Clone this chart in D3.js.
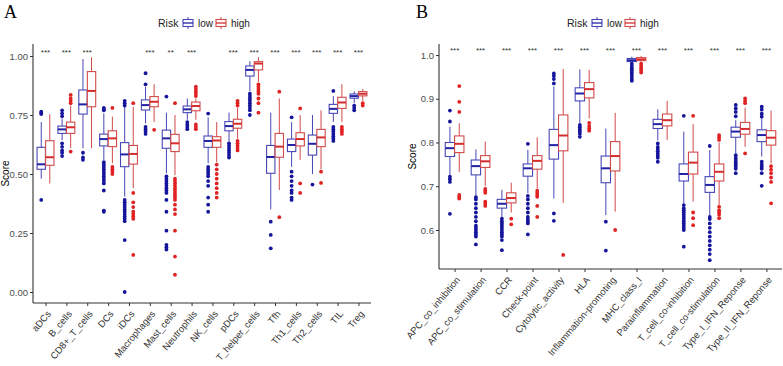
<!DOCTYPE html>
<html>
<head>
<meta charset="utf-8">
<script src="https://cdn.jsdelivr.net/npm/d3@7"></script>
<style>
  body { margin: 0; background: #fff; }
  svg text { font-family: "Liberation Sans", Arial, sans-serif; }
</style>
</head>
<body>
<div id="chart"></div>
<script>
// ---- Panel A: immune cells ----
var catsA = ["aDCs", "B_cells", "CD8+_T_cells", "DCs", "iDCs", "Macrophages", "Mast_cells", "Neutrophils",
             "NK_cells", "pDCs", "T_helper_cells", "Tfh", "Th1_cells", "Th2_cells", "TIL", "Treg"];
var starsA = ["***", "***", "***", "", "", "***", "**", "***", "", "***", "***", "***", "***", "***", "***", "***"];
var ticksA = [0, 0.25, 0.5, 0.75, 1.0];

// [lower whisker, q1, median, q3, upper whisker]
var lowA = [
  [0.48, 0.52, 0.541, 0.613, 0.72], [0.644, 0.672, 0.689, 0.703, 0.736], [0.609, 0.754, 0.795, 0.856, 0.987],
  [0.559, 0.619, 0.648, 0.669, 0.757], [0.404, 0.531, 0.583, 0.633, 0.785], [0.715, 0.771, 0.792, 0.814, 0.87],
  [0.503, 0.609, 0.651, 0.686, 0.76], [0.73, 0.76, 0.774, 0.788, 0.82], [0.545, 0.613, 0.64, 0.661, 0.74],
  [0.637, 0.683, 0.703, 0.722, 0.76], [0.85, 0.915, 0.941, 0.958, 0.978], [0.35, 0.503, 0.572, 0.621, 0.76],
  [0.53, 0.595, 0.623, 0.648, 0.72], [0.50, 0.58, 0.628, 0.665, 0.75], [0.72, 0.757, 0.776, 0.795, 0.83],
  [0.80, 0.821, 0.83, 0.839, 0.85]
];
var highA = [
  [0.46, 0.537, 0.571, 0.641, 0.754], [0.61, 0.672, 0.698, 0.72, 0.79], [0.609, 0.785, 0.852, 0.934, 0.994],
  [0.545, 0.616, 0.651, 0.683, 0.743], [0.44, 0.542, 0.585, 0.621, 0.785], [0.72, 0.785, 0.806, 0.828, 0.88],
  [0.495, 0.595, 0.63, 0.668, 0.75], [0.73, 0.768, 0.788, 0.805, 0.82], [0.55, 0.613, 0.642, 0.658, 0.72],
  [0.65, 0.694, 0.713, 0.732, 0.78], [0.89, 0.941, 0.968, 0.976, 0.995], [0.432, 0.571, 0.616, 0.672, 0.82],
  [0.56, 0.619, 0.648, 0.675, 0.75], [0.52, 0.616, 0.655, 0.689, 0.77], [0.72, 0.778, 0.803, 0.825, 0.88],
  [0.81, 0.831, 0.84, 0.849, 0.86]
];
var lowOutA = [
  [0.39, 0.754, 0.76, 0.764],
  [0.576, 0.59, 0.60, 0.615, 0.63, 0.745, 0.757, 0.77],
  [0.56, 0.57, 0.59],
  [0.34, 0.345, 0.43, 0.46, 0.47, 0.48, 0.49, 0.50, 0.51, 0.52, 0.53, 0.54, 0.55, 0.77, 0.775, 0.78],
  [0.0, 0.22, 0.30, 0.31, 0.32, 0.33, 0.34, 0.35, 0.36, 0.37, 0.38, 0.39, 0.79, 0.80, 0.81],
  [0.67, 0.68, 0.69, 0.70, 0.88, 0.927],
  [0.18, 0.19, 0.20, 0.26, 0.34, 0.39, 0.42, 0.43, 0.44, 0.45, 0.46, 0.47, 0.48, 0.49, 0.828],
  [0.69, 0.70, 0.71, 0.72],
  [0.34, 0.37, 0.40, 0.45, 0.47, 0.49, 0.50, 0.51, 0.52, 0.53, 0.756],
  [0.57, 0.58, 0.59, 0.60, 0.61, 0.62, 0.63],
  [0.75, 0.77, 0.78, 0.79, 0.80, 0.81, 0.82, 0.83, 0.84],
  [0.185, 0.242, 0.298],
  [0.39, 0.40, 0.42, 0.43, 0.45, 0.47, 0.49, 0.51, 0.74],
  [0.455],
  [0.64, 0.65, 0.66, 0.67, 0.68, 0.69, 0.70, 0.852],
  [0.77, 0.78, 0.79]
];
var highOutA = [
  [],
  [0.595, 0.80, 0.81, 0.82, 0.835],
  [],
  [0.50, 0.51, 0.52, 0.53, 0.78],
  [0.157, 0.31, 0.32, 0.33, 0.34, 0.36, 0.38, 0.42, 0.80],
  [0.687],
  [0.073, 0.15, 0.26, 0.33, 0.35, 0.37, 0.39, 0.40, 0.41, 0.42, 0.43, 0.44, 0.45, 0.46, 0.47, 0.48, 0.80],
  [0.69, 0.70, 0.71, 0.83, 0.84, 0.85, 0.86, 0.87],
  [0.40, 0.42, 0.44, 0.46, 0.48, 0.50, 0.52, 0.54],
  [0.60, 0.61, 0.62, 0.63, 0.64, 0.79, 0.80, 0.81],
  [0.76, 0.80, 0.82, 0.84, 0.85, 0.86, 0.87, 0.88],
  [0.317, 0.849],
  [0.42, 0.46, 0.778],
  [0.462, 0.51],
  [0.67, 0.68, 0.69, 0.70],
  [0.79, 0.80]
];

// ---- Panel B: immune functions ----
var catsB = ["APC_co_inhibition", "APC_co_stimulation", "CCR", "Check-point", "Cytolytic_activity", "HLA",
             "Inflammation-promoting", "MHC_class_I", "Parainflammation", "T_cell_co-inhibition",
             "T_cell_co-stimulation", "Type_I_IFN_Reponse", "Type_II_IFN_Reponse"];
var starsB = ["***", "***", "***", "***", "***", "***", "***", "***", "***", "***", "***", "***", "***"];
var ticksB = [0.6, 0.7, 0.8, 0.9, 1.0];

var lowB = [
  [0.726, 0.768, 0.787, 0.80, 0.836], [0.678, 0.726, 0.746, 0.76, 0.784], [0.63, 0.65, 0.66, 0.67, 0.692],
  [0.684, 0.723, 0.741, 0.751, 0.783], [0.672, 0.762, 0.794, 0.83, 0.928], [0.845, 0.895, 0.912, 0.925, 0.967],
  [0.634, 0.708, 0.741, 0.769, 0.832], [0.983, 0.985, 0.988, 0.992, 0.996], [0.805, 0.832, 0.842, 0.853, 0.876],
  [0.661, 0.712, 0.728, 0.751, 0.825], [0.634, 0.686, 0.703, 0.722, 0.783], [0.775, 0.812, 0.825, 0.835, 0.851],
  [0.768, 0.802, 0.817, 0.829, 0.855]
];
var highB = [
  [0.733, 0.777, 0.797, 0.815, 0.844], [0.70, 0.743, 0.757, 0.77, 0.802], [0.64, 0.662, 0.673, 0.685, 0.708],
  [0.695, 0.739, 0.758, 0.77, 0.812], [0.662, 0.781, 0.816, 0.863, 0.968], [0.855, 0.902, 0.922, 0.937, 0.966],
  [0.642, 0.735, 0.769, 0.802, 0.868], [0.985, 0.987, 0.99, 0.994, 0.998], [0.806, 0.838, 0.851, 0.865, 0.895],
  [0.665, 0.728, 0.754, 0.778, 0.842], [0.657, 0.712, 0.733, 0.751, 0.80], [0.79, 0.819, 0.831, 0.846, 0.88],
  [0.752, 0.794, 0.811, 0.827, 0.873]
];
var lowOutB = [
  [0.637, 0.71, 0.716, 0.722, 0.848, 0.873],
  [0.567, 0.585, 0.59, 0.595, 0.60, 0.605, 0.61, 0.62, 0.63, 0.64, 0.65, 0.66, 0.67, 0.675],
  [0.554, 0.577, 0.585, 0.59, 0.595, 0.60, 0.605, 0.61, 0.615, 0.62, 0.626],
  [0.59, 0.615, 0.62, 0.625, 0.63, 0.64, 0.65, 0.66, 0.67, 0.678, 0.797],
  [0.621, 0.638, 0.935, 0.945, 0.952, 0.958],
  [0.813, 0.82, 0.825, 0.83, 0.835, 0.84],
  [0.553, 0.619],
  [0.941, 0.945, 0.95, 0.955, 0.96, 0.965, 0.97, 0.975, 0.98],
  [0.756, 0.765, 0.77, 0.775, 0.78, 0.785, 0.79, 0.798],
  [0.562, 0.60, 0.605, 0.61, 0.615, 0.62, 0.625, 0.63, 0.635, 0.64, 0.645, 0.65, 0.657, 0.861],
  [0.531, 0.545, 0.555, 0.565, 0.575, 0.585, 0.595, 0.605, 0.615, 0.625, 0.63, 0.792],
  [0.73, 0.74, 0.745, 0.75, 0.755, 0.76, 0.765, 0.771, 0.86, 0.87, 0.878, 0.886],
  [0.701, 0.73, 0.74, 0.745, 0.75, 0.756, 0.859, 0.866, 0.875, 0.882]
];
var highOutB = [
  [0.672, 0.676, 0.68, 0.870, 0.893, 0.929],
  [0.655, 0.66, 0.665, 0.685, 0.69, 0.694],
  [0.613, 0.626],
  [0.63, 0.655, 0.676, 0.68, 0.685, 0.69],
  [0.543],
  [0.827, 0.832, 0.838, 0.845],
  [0.60],
  [0.96, 0.965, 0.97, 0.975, 0.98],
  [],
  [0.611, 0.627, 0.64, 0.861],
  [0.627, 0.635, 0.64, 0.645, 0.653, 0.806, 0.812, 0.817],
  [0.775, 0.89, 0.895, 0.901],
  [0.661, 0.71, 0.72, 0.73, 0.738, 0.746]
];

var groups = ["low", "high"];
var colors = {
  low:  { box: "#4747b5", med: "#2222a6", dot: "#15159c" },
  high: { box: "#d24a4a", med: "#d42c2c", dot: "#e02222" }
};

var svg = d3.select("#chart").append("svg")
  .attr("width", 783)
  .attr("height", 366);

function drawPanel(p) {
  var g = svg.append("g");

  var x = d3.scalePoint().domain(p.cats).range([p.left, p.right]).padding(0.6);
  var y = d3.scaleLinear().domain(p.domain).range(p.yRange);
  var step = x.step();
  var bw = step * p.boxFrac;
  var off = step * p.offFrac;

  // axis lines
  g.append("line").attr("x1", p.left).attr("x2", p.left).attr("y1", p.top).attr("y2", p.bottom)
    .attr("stroke", "#333").attr("stroke-width", 1.1);
  g.append("line").attr("x1", p.left).attr("x2", p.right).attr("y1", p.bottom).attr("y2", p.bottom)
    .attr("stroke", "#333").attr("stroke-width", 1.1);

  // y axis
  var yAxis = d3.axisLeft(y).tickValues(p.ticks).tickFormat(d3.format(p.fmt)).tickSize(3).tickPadding(2);
  var ya = g.append("g").attr("transform", "translate(" + p.left + ",0)").call(yAxis);
  ya.select(".domain").remove();
  ya.selectAll("line").attr("stroke", "#333");
  ya.selectAll("text").attr("fill", "#4d4d4d").style("font-size", "9.5px");

  // x axis
  var xAxis = d3.axisBottom(x).tickSize(3).tickPadding(0);
  var xa = g.append("g").attr("transform", "translate(0," + p.bottom + ")").call(xAxis);
  xa.select(".domain").remove();
  xa.selectAll("line").attr("stroke", "#333");
  xa.selectAll("text")
    .attr("y", 0).attr("dy", "0.35em")
    .attr("transform", "translate(3,9) rotate(-50)")
    .style("text-anchor", "end")
    .style("font-size", "9.5px")
    .attr("fill", "#333");

  // Score label
  g.append("text")
    .attr("transform", "translate(" + p.scoreX + "," + ((p.top + p.bottom) / 2) + ") rotate(-90)")
    .attr("text-anchor", "middle")
    .style("font-size", "10px")
    .text("Score");

  // boxes
  groups.forEach(function(key, gi) {
    var stats = gi === 0 ? p.low : p.high;
    var outs = gi === 0 ? p.lowOut : p.highOut;
    var dx = gi === 0 ? -off : off;
    var c = colors[key];
    var bg = g.append("g").attr("class", "grp-" + key);

    var boxes = bg.selectAll("g.box").data(p.cats).enter().append("g").attr("class", "box");

    boxes.append("line")
      .attr("x1", function(d) { return x(d) + dx; })
      .attr("x2", function(d) { return x(d) + dx; })
      .attr("y1", function(d, i) { return y(stats[i][0]); })
      .attr("y2", function(d, i) { return y(stats[i][4]); })
      .attr("stroke", c.box).attr("stroke-width", 1);

    boxes.append("rect")
      .attr("x", function(d) { return x(d) + dx - bw / 2; })
      .attr("y", function(d, i) { return y(stats[i][3]); })
      .attr("width", bw)
      .attr("height", function(d, i) { return Math.max(1, y(stats[i][1]) - y(stats[i][3])); })
      .attr("fill", "#fff").attr("stroke", c.box).attr("stroke-width", 1.1);

    boxes.append("line")
      .attr("x1", function(d) { return x(d) + dx - bw / 2; })
      .attr("x2", function(d) { return x(d) + dx + bw / 2; })
      .attr("y1", function(d, i) { return y(stats[i][2]); })
      .attr("y2", function(d, i) { return y(stats[i][2]); })
      .attr("stroke", c.med).attr("stroke-width", 2);

    var pts = [];
    outs.forEach(function(arr, i) {
      arr.forEach(function(v) { pts.push({ cat: p.cats[i], v: v }); });
    });
    bg.selectAll("circle").data(pts).enter().append("circle")
      .attr("cx", function(d) { return x(d.cat) + dx; })
      .attr("cy", function(d) { return y(d.v); })
      .attr("r", 1.9)
      .attr("fill", c.dot);
  });

  // significance
  g.selectAll("text.sig").data(p.cats).enter().append("text")
    .attr("class", "sig")
    .attr("x", function(d) { return x(d); })
    .attr("y", p.starY)
    .attr("text-anchor", "middle")
    .style("font-size", "8px")
    .attr("fill", "#333")
    .text(function(d, i) { return p.stars[i]; });

  // panel tag
  g.append("text")
    .attr("x", p.tagX).attr("y", 18)
    .style("font-family", "'Liberation Serif', 'Times New Roman', serif")
    .style("font-size", "18px")
    .text(p.tag);

  // legend
  var lg = g.append("g").attr("transform", "translate(" + p.legendX + ",23)");
  lg.append("text").attr("x", 0).attr("y", 4).style("font-size", "10.5px").attr("fill", "#222").text("Risk");
  var keyX = [25, 58];
  groups.forEach(function(key, gi) {
    var c = colors[key];
    var k = lg.append("g").attr("transform", "translate(" + keyX[gi] + ",0)");
    k.append("line").attr("x1", 5).attr("x2", 5).attr("y1", -6).attr("y2", 6).attr("stroke", c.box);
    k.append("rect").attr("x", 0).attr("y", -3.5).attr("width", 10).attr("height", 7)
      .attr("fill", "#fff").attr("stroke", c.box).attr("stroke-width", 1.1);
    k.append("line").attr("x1", 0).attr("x2", 10).attr("y1", 0).attr("y2", 0).attr("stroke", c.med).attr("stroke-width", 1.3);
    k.append("text").attr("x", 15).attr("y", 4).style("font-size", "10px").attr("fill", "#222").text(key);
  });
}

drawPanel({
  cats: catsA, stars: starsA, ticks: ticksA, fmt: ".2f",
  low: lowA, high: highA, lowOut: lowOutA, highOut: highOutA,
  left: 33, right: 371, top: 44, bottom: 303,
  domain: [0, 1], yRange: [292, 56],
  boxFrac: 0.4, offFrac: 0.205,
  scoreX: 9, starY: 55, tag: "A", tagX: 4, legendX: 158
});

drawPanel({
  cats: catsB, stars: starsB, ticks: ticksB, fmt: ".1f",
  low: lowB, high: highB, lowOut: lowOutB, highOut: highOutB,
  left: 439, right: 782, top: 44, bottom: 269,
  domain: [0.6, 1.0], yRange: [230, 55],
  boxFrac: 0.36, offFrac: 0.18,
  scoreX: 416, starY: 53, tag: "B", tagX: 416, legendX: 567
});
</script>
</body>
</html>
